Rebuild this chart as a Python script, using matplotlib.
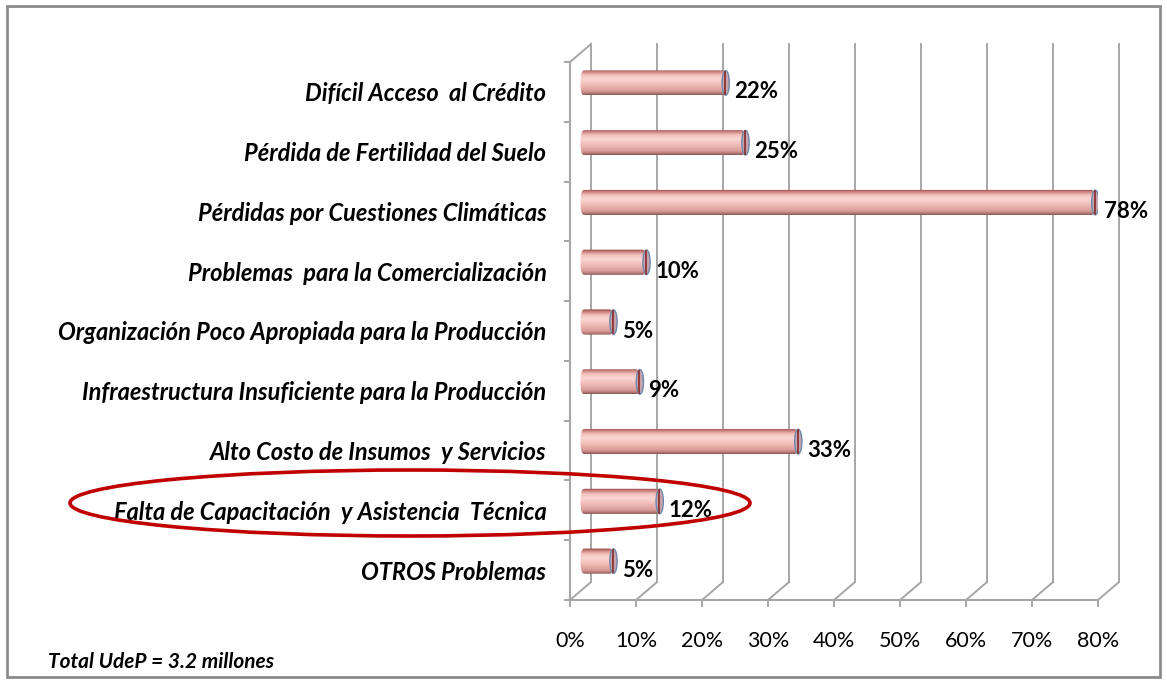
import numpy as np
import matplotlib
matplotlib.use("Agg")
import matplotlib.pyplot as plt
from matplotlib.colors import LinearSegmentedColormap
from matplotlib.patches import Ellipse, FancyBboxPatch, Rectangle

# data, top to bottom as in the chart
categories = [
    "Difícil Acceso  al Crédito",
    "Pérdida de Fertilidad del Suelo",
    "Pérdidas por Cuestiones Climáticas",
    "Problemas  para la Comercialización",
    "Organización Poco Apropiada para la Producción",
    "Infraestructura Insuficiente para la Producción",
    "Alto Costo de Insumos  y Servicios",
    "Falta de Capacitación  y Asistencia  Técnica",
    "OTROS Problemas",
]
values = [22, 25, 78, 10, 5, 9, 33, 12, 5]
xticks = [0, 10, 20, 30, 40, 50, 60, 70, 80]
xtick_labels = ["0%", "10%", "20%", "30%", "40%", "50%", "60%", "70%", "80%"]
note = "Total UdeP = 3.2 millones"

W, H = 1167, 683
fig = plt.figure(figsize=(W / 100, H / 100), dpi=100)
plt.rcParams["font.family"] = ["Lato", "DejaVu Sans"]

# axes placed so that 0..80 % spans the front plane of the 3D excel chart
x0_px, x1_px, ytop_px, ybot_px = 570, 1098, 62, 600
ax = fig.add_axes([x0_px / W, 1 - ybot_px / H, (x1_px - x0_px) / W, (ybot_px - ytop_px) / H])
n = len(categories)
ax.set_xlim(0, 80)
ax.set_ylim(0, n)

dx, dy = 3.18, 0.30   # depth offset of the back wall
grid_c = "#a6a6a6"

# back wall gridlines + floor diagonals
for x in xticks:
    ax.plot([x + dx, x + dx], [dy, n + dy], color=grid_c, lw=1.4, clip_on=False, zorder=1)
    ax.plot([x, x + dx], [0, dy], color=grid_c, lw=1.4, clip_on=False, zorder=1)
# top of the left wall
ax.plot([0, dx], [n, n + dy], color=grid_c, lw=1.4, clip_on=False, zorder=1)

for s in ["top", "right"]:
    ax.spines[s].set_visible(False)
for s in ["left", "bottom"]:
    ax.spines[s].set_color(grid_c)
    ax.spines[s].set_linewidth(1.5)

ax.set_xticks(xticks)
ax.set_xticklabels(xtick_labels, fontsize=15.5)
ax.tick_params(axis="x", length=5, width=1.4, color=grid_c, pad=17)
ax.set_yticks(np.arange(n + 1))
ax.set_yticklabels([])
ax.tick_params(axis="y", which="major", length=4, width=1.4, color=grid_c)
ax.set_yticks(np.arange(n) + 0.5, minor=True)
ax.set_yticklabels(categories[::-1], minor=True, fontsize=17,
                   fontweight="bold", fontstyle="italic")
ax.tick_params(axis="y", which="minor", length=0, pad=17)

# cylinder shading
cyl = LinearSegmentedColormap.from_list("cyl", [
    (0.0, "#8a3432"), (0.08, "#c27a76"), (0.22, "#f3c0bc"), (0.38, "#fad6d3"),
    (0.6, "#f1bdb9"), (0.85, "#d99c98"), (0.94, "#b47a77"), (1.0, "#865654")])
grad = np.linspace(0, 1, 64).reshape(-1, 1)

bh = 0.42
for i, v in enumerate(values[::-1]):
    yc = i + 0.5 + dy / 2
    xs, xe = dx / 2, v + dx / 2
    im = ax.imshow(grad, cmap=cyl, aspect="auto", extent=[xs, xe, yc - bh / 2, yc + bh / 2],
                   origin="upper", zorder=3, interpolation="bilinear")
    clip = FancyBboxPatch((xs, yc - bh / 2), xe - xs, bh,
                          boxstyle="round,pad=0,rounding_size=0.55", mutation_aspect=0.36,
                          transform=ax.transData, facecolor="none", edgecolor="none")
    ax.add_patch(clip)
    im.set_clip_path(clip)
    ax.add_patch(Ellipse((xe, yc), 1.1, bh * 0.98, facecolor="#c7a3ab", edgecolor="#6d88ac",
                         lw=1.0, zorder=4))
    ax.plot([xe - 0.1, xe - 0.1], [yc - bh * 0.45, yc + bh * 0.45], color="#8a3432", lw=1.3, zorder=4)
    ax.text(v + dx / 2 + 1.3, i + 0.5, f"{v}%", fontsize=16, fontweight="bold",
            va="center", ha="left", zorder=5)

ax.set_xlim(0, 80)
ax.set_ylim(0, n)

# note + highlight ellipse + outer frame
fig.text(48 / W, 1 - 662 / H, note, fontsize=15, fontweight="bold", fontstyle="italic", va="center")
fig.add_artist(Ellipse((410 / W, 1 - 503 / H), 680 / W, 66 / H, transform=fig.transFigure,
                       fill=False, edgecolor="#c00000", lw=2.6))
fig.add_artist(Rectangle((7 / W, 1 - 677 / H), 1153 / W, 671 / H, transform=fig.transFigure,
                         fill=False, edgecolor="#8c8c8c", lw=2))

fig.savefig("out.png", dpi=100)
